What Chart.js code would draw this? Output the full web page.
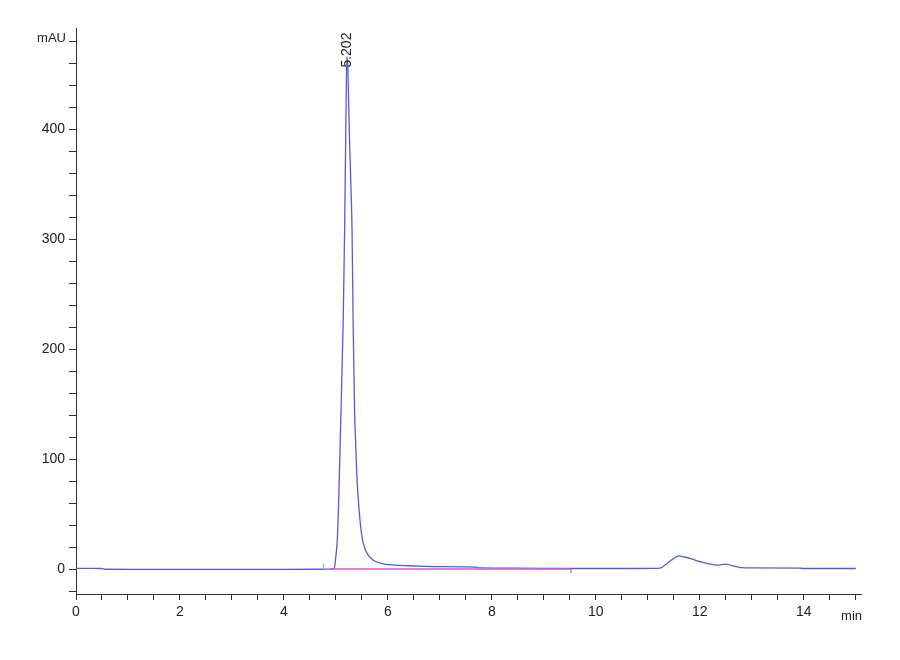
<!DOCTYPE html>
<html>
<head>
<meta charset="utf-8">
<script src="https://cdn.jsdelivr.net/npm/chart.js@4/dist/chart.umd.min.js"></script>
<style>
  body { margin: 0; background: #fff; }
  #chrom { display: block; }
</style>
</head>
<body>
<canvas id="chrom" width="900" height="660"></canvas>
<script>
// chromatogram trace (min, mAU)
const traceTime = [0, 0.3, 0.5, 0.55, 1.0, 2.0, 3.0, 4.0, 4.7, 4.88, 4.97, 4.99, 5.025, 5.05, 5.083, 5.14, 5.167, 5.19, 5.21,
    5.23, 5.256, 5.29, 5.31, 5.33, 5.36, 5.378, 5.40, 5.44, 5.49, 5.545, 5.62, 5.72, 5.88, 6.13, 6.4, 6.7, 7.0, 7.7, 7.75,
    8.5, 9.5, 10.5, 11.2, 11.25, 11.33, 11.45, 11.6, 11.7, 11.81, 11.95, 12.06, 12.2, 12.32, 12.42, 12.52, 12.62, 12.71, 12.8,
    13.0, 13.9, 14.0, 15.0];
const traceValue = [0.6, 0.6, 0.5, -0.2, -0.3, -0.3, -0.3, -0.3, -0.2, 0, 1, 8, 26, 57, 117, 226, 308, 400, 466,
    455, 400, 345, 308, 226, 140, 117, 87, 57, 33, 20, 12.7, 8, 5, 3.6, 3, 2.5, 2.2, 1.8, 1.0,
    0.8, 0.5, 0.5, 0.6, 1, 3.6, 8, 12, 11, 9.7, 7.5, 6.1, 4.5, 3.6, 4, 4.5, 3, 2.1, 1.2,
    1, 0.9, 0.5, 0.5];

// integration baseline
const baseTime = [4.9, 9.5];
const baseValue = [0, 0];

// integration event marks
const markTime = [4.76, 4.76, null, 9.52, 9.52];
const markValue = [0, 5, null, 0, -3.5];

const peakTime = 5.202;
const peakHeight = 466;
const peakLabel = '5.202';

const xLabels = ['0', '2', '4', '6', '8', '10', '12', '14'];
const yLabels = ['0', '100', '200', '300', '400'];
const xMin = 0, xMax = 15.1, xMinor = 0.5;
const yMin = -22.7, yMax = 492, yMinor = 20;

const FONT = 'Liberation Sans, Arial, sans-serif';

function pairs(xs, ys) {
    return xs.map((x, i) => (x === null ? { x: NaN, y: NaN } : { x: x, y: ys[i] }));
}

function stepTicks(lo, hi, step) {
    const out = [];
    for (let v = Math.ceil(lo / step) * step; v <= hi + 1e-9; v += step) out.push(+v.toFixed(3));
    return out;
}

const annotations = {
    id: 'annotations',
    afterDatasetsDraw(chart) {
        const { ctx, chartArea, scales } = chart;
        ctx.save();
        ctx.fillStyle = '#222';
        ctx.font = '13px ' + FONT;
        ctx.textAlign = 'right';
        ctx.textBaseline = 'middle';
        ctx.fillText('mAU', chartArea.left - 10, chartArea.top + 10);
        ctx.fillText('min', chartArea.right + 1, chartArea.bottom + 22);

        const px = scales.x.getPixelForValue(peakTime);
        const py = scales.y.getPixelForValue(peakHeight);
        ctx.translate(px + 1, py + 11);
        ctx.rotate(-Math.PI / 2);
        ctx.font = '14px ' + FONT;
        ctx.textAlign = 'left';
        ctx.fillText(peakLabel, 0, 0);
        ctx.restore();
    }
};

new Chart(document.getElementById('chrom').getContext('2d'), {
    type: 'line',
    data: {
        datasets: [{
            label: 'baseline',
            data: pairs(baseTime, baseValue),
            borderColor: '#e055e0',
            borderWidth: 1.6,
            pointRadius: 0,
            tension: 0
        }, {
            label: 'events',
            data: pairs(markTime, markValue),
            borderColor: '#aaaaaa',
            borderWidth: 1,
            pointRadius: 0,
            spanGaps: false
        }, {
            label: 'signal',
            data: pairs(traceTime, traceValue),
            borderColor: '#5858e4',
            borderWidth: 1.3,
            pointRadius: 0,
            cubicInterpolationMode: 'monotone'
        }]
    },
    options: {
        responsive: false,
        animation: false,
        layout: { padding: { left: 0, top: 28, right: 39, bottom: 36 } },
        plugins: { legend: { display: false }, tooltip: { enabled: false } },
        scales: {
            x: {
                type: 'linear',
                min: xMin,
                max: xMax,
                afterFit(scale) { scale.height = 30; },
                afterBuildTicks(scale) { scale.ticks = stepTicks(xMin, xMax, xMinor).map(v => ({ value: v })); },
                border: { display: true, color: '#333', width: 1 },
                grid: { drawOnChartArea: false, drawTicks: true, tickLength: 6, color: '#333' },
                ticks: {
                    autoSkip: false,
                    maxRotation: 0,
                    padding: 4,
                    color: '#222',
                    font: { family: FONT, size: 14 },
                    callback: v => (xLabels.includes(String(v)) ? String(v) : '')
                }
            },
            y: {
                min: yMin,
                max: yMax,
                afterFit(scale) { scale.width = 76; },
                afterBuildTicks(scale) { scale.ticks = stepTicks(yMin, yMax, yMinor).map(v => ({ value: v })); },
                border: { display: true, color: '#333', width: 1 },
                grid: { drawOnChartArea: false, drawTicks: true, tickLength: 7, color: '#333' },
                ticks: {
                    autoSkip: false,
                    padding: 4,
                    color: '#222',
                    font: { family: FONT, size: 14 },
                    callback: v => (yLabels.includes(String(v)) ? String(v) : '')
                }
            }
        }
    },
    plugins: [annotations]
});
</script>
</body>
</html>
